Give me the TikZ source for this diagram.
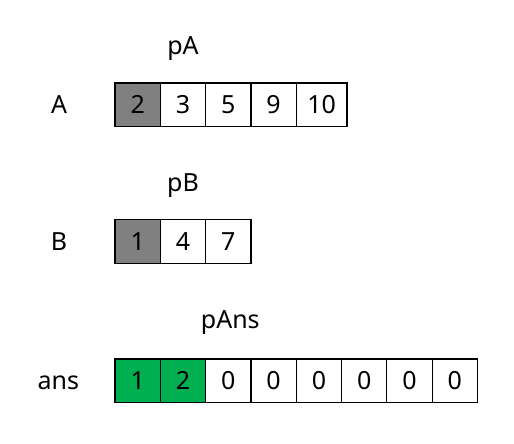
\documentclass[tikz,border=0pt]{standalone}
\usepackage{fontspec}
\setmainfont{Noto Sans}
\usepackage{xcolor}
\usepackage{tikz}
\usetikzlibrary{positioning}

\definecolor{cellgray}{RGB}{128,128,128}
\definecolor{cellgreen}{RGB}{0,176,80}

\begin{document}
\begin{tikzpicture}[
  x=1pt, y=-1pt,
  font=\fontsize{25}{28}\selectfont,
  cell/.style={draw, line width=1.2pt, minimum width=45.3pt, minimum height=43.5pt,
    inner sep=0pt, outer sep=0pt, text height=18pt, text depth=0pt},
  wide/.style={cell, minimum width=50.7pt},
  seen/.style={cell, fill=cellgray},
  done/.style={cell, fill=cellgreen},
  lbl/.style={inner sep=0pt, outer sep=0pt, minimum width=40pt, text height=18pt, text depth=0pt},
  ptr/.style={inner sep=0pt, outer sep=0pt, text height=18pt, text depth=0pt},
]
\useasboundingbox (0,0) rectangle (514,444);

% Array A
\node[seen] (a1) at (137.7,104.7) {2};
\node[cell, right=0pt of a1] (a2) {3};
\node[cell, right=0pt of a2] (a3) {5};
\node[cell, right=0pt of a3] (a4) {9};
\node[wide, right=0pt of a4] (a5) {10};
\node[lbl, left=36pt of a1] (labA) {A};
\node[ptr, above=28pt of a2] (pA) {pA};

% Array B
\node[seen] (b1) at (137.7,241.5) {1};
\node[cell, right=0pt of b1] (b2) {4};
\node[cell, right=0pt of b2] (b3) {7};
\node[lbl, left=36pt of b1] (labB) {B};
\node[ptr, above=28pt of b2] (pB) {pB};

% Array ans
\node[done] (c1) at (137.7,380.7) {1};
\node[done, right=0pt of c1] (c2) {2};
\node[cell, right=0pt of c2] (c3) {0};
\node[cell, right=0pt of c3] (c4) {0};
\node[cell, right=0pt of c4] (c5) {0};
\node[cell, right=0pt of c5] (c6) {0};
\node[cell, right=0pt of c6] (c7) {0};
\node[cell, right=0pt of c7] (c8) {0};
\node[lbl, left=36pt of c1] (labAns) {ans};
\node[ptr, above=30pt of c3, xshift=2pt] (pAns) {pAns};

\end{tikzpicture}
\end{document}
